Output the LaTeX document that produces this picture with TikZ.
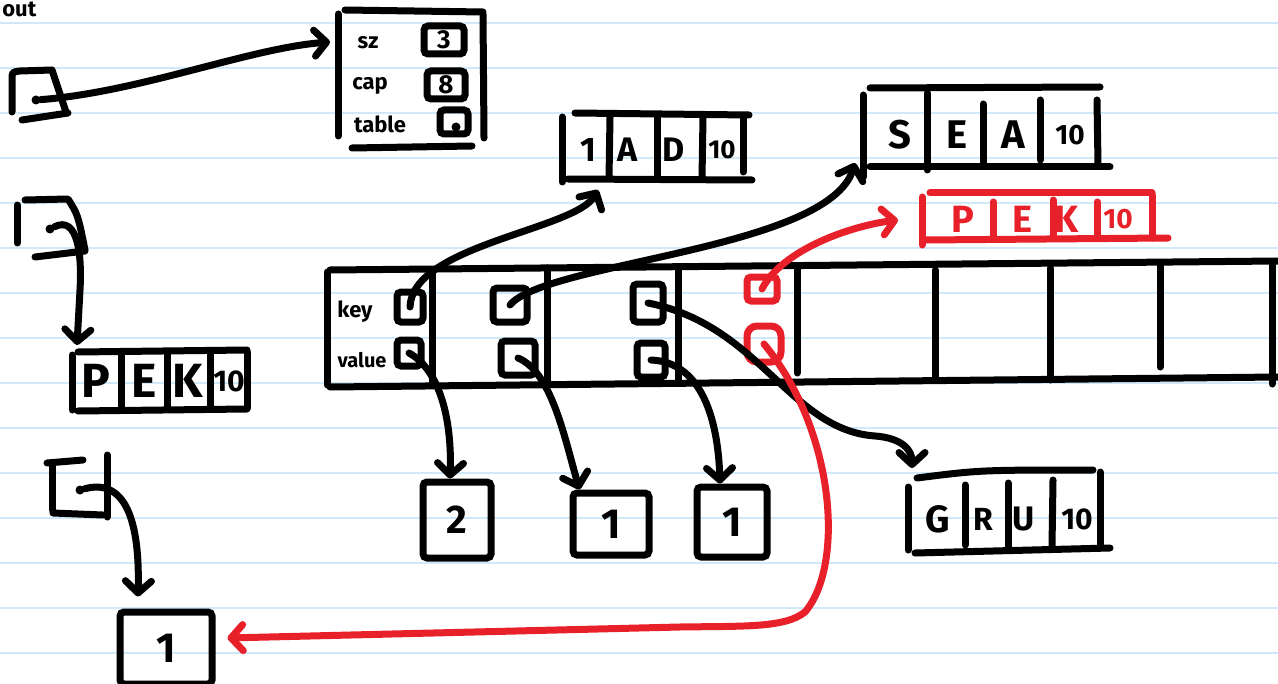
\documentclass[tikz,border=0pt]{standalone}
\usepackage{fontspec}
\setmainfont{Fira Sans}
\usetikzlibrary{arrows.meta}
\definecolor{inkred}{RGB}{232,32,42}
\definecolor{rulecol}{RGB}{208,233,248}
\tikzset{
  ink/.style={line width=3.5pt,line cap=round,line join=round},
  rink/.style={ink,draw=inkred},
  ptr/.style={ink,-{Straight Barb[length=6pt,width=13pt,round]}},
  rptr/.style={ptr,draw=inkred},
  pbox/.style={draw,line width=3.5pt,rounded corners=2pt,inner sep=0pt,font=\bfseries\fontsize{13}{13}\selectfont},
  rbox/.style={pbox,draw=inkred},
  dotn/.style={circle,fill,inner sep=0pt,minimum size=4.5pt},
  lbl/.style={inner sep=0pt,font=\bfseries\fontsize{11}{12}\selectfont},
  cellt/.style={inner sep=0pt,font=\bfseries\fontsize{#1}{#1}\selectfont},
}
\begin{document}
\begin{tikzpicture}[x=0.5pt,y=-0.5pt]
\fill[white] (0,0) rectangle (1278,684);
\useasboundingbox (0,0) rectangle (1278,684);
\foreach \yy in {23,68,...,653} \draw[rulecol,line width=0.6pt] (0,\yy) -- (1278,\yy);

% ---------- "out" and its pointer box
\node[cellt=11,anchor=north west] (outlbl) at (2,1) {out};
\draw[ink] (12,112) -- (12,80) .. controls (12,72) .. (20,71) -- (52,70) -- (66,112);
\draw[ink] (22,120) -- (68,113);
\node[dotn] (outp) at (36,100) {};

% ---------- struct (sz, cap, table)
\draw[ink] (338,14) -- (338,136);
\draw[ink] (345,10) -- (483,12);
\draw[ink] (483,14) -- (484,138);
\draw[ink] (352,148) -- (472,146);
\node[lbl] (szl) at (368,43) {sz};
\node[lbl] (capl) at (370,86) {cap};
\node[lbl] (tabl) at (380,124) {table};
\node[pbox,minimum width=20pt,minimum height=14pt] (szv) at (444,40) {3};
\node[pbox,minimum width=19pt,minimum height=14pt] (capv) at (446,85) {8};
\node[pbox,minimum width=14pt,minimum height=12pt] (tabv) at (454,122) {};
\node[dotn] (tabp) at (456,127) {};
\coordinate (structin) at (330,42);
\draw[ptr] (outp) .. controls (140,92) and (250,48) .. (structin);

% ---------- second pointer box -> PEK10
\draw[ink] (17,205) -- (17,243);
\draw[ink] (25,200) -- (68,199) .. controls (78,215) .. (85,250);
\draw[ink] (35,257) -- (85,251);
\node[dotn] (p2) at (50,229) {};
\coordinate (pekin) at (77,345);
\draw[ptr] (p2) .. controls (78,215) and (82,255) .. (80,290) -- (pekin);

% ---------- PEK10 (black)
\draw[ink] (72,355) -- (72,410);
\draw[ink] (78,352) -- (247,350);
\draw[ink] (78,411) -- (247,409);
\draw[ink] (121,355) -- (121,408);
\draw[ink] (167,353) -- (167,408);
\draw[ink] (210,353) -- (210,408);
\draw[ink] (247,352) -- (247,408);
\node[cellt=24] (bp) at (96,381) {P};
\node[cellt=24] (be) at (144,381) {E};
\node[cellt=24] (bk) at (188,381) {K};
\node[cellt=15] (b10) at (229,381) {10};

% ---------- third pointer box -> box 1
\draw[ink] (52,465) -- (52,510);
\draw[ink] (47,463) -- (83,460);
\draw[ink] (107,455) -- (107,517);
\draw[ink] (53,513) -- (103,515);
\node[dotn] (p3) at (80,490) {};
\node[pbox,minimum width=46pt,minimum height=36pt,font=\bfseries\fontsize{21}{21}\selectfont] (bbot) at (166,648) {1};
\draw[ptr] (p3) .. controls (125,478) and (140,520) .. ([xshift=-14pt,yshift=6pt]bbot.north);

% ---------- table array
\draw[ink] (327,272) -- (327,385);
\draw[ink] (330,270) -- (1278,261);
\draw[ink] (330,387) -- (1278,377);
\foreach \xx/\ya/\yb in {432/272/382,547/268/382,678/268/383,797/268/373,935/270/380,1050/268/380,1160/264/367,1272/265/384}
  \draw[ink] (\xx,\ya) -- (\xx,\yb);
\node[lbl] (keyl) at (355,312) {key};
\node[lbl,font=\bfseries\fontsize{10}{11}\selectfont] (vall) at (362,360) {value};
\node[pbox,minimum width=13pt,minimum height=15pt] (k1) at (410,307) {};
\node[pbox,minimum width=12pt,minimum height=13pt] (v1) at (409,353) {};
\node[pbox,minimum width=17pt,minimum height=17pt] (k2) at (510,305) {};
\node[pbox,minimum width=17pt,minimum height=17pt] (v2) at (518,358) {};
\node[pbox,minimum width=15pt,minimum height=19pt] (k3) at (648,303) {};
\node[pbox,minimum width=14pt,minimum height=17pt] (v3) at (651,360) {};
\node[rbox,minimum width=15pt,minimum height=12pt] (k4) at (762,289) {};
\node[rbox,minimum width=17pt,minimum height=18pt,rounded corners=5pt] (v4) at (764,344) {};

% ---------- 1AD10
\draw[ink] (562,117) -- (562,182);
\draw[ink] (575,113) -- (749,115);
\draw[ink] (568,179) -- (752,180);
\draw[ink] (610,117) -- (609,178);
\draw[ink] (657,116) -- (657,178);
\draw[ink] (703,117) -- (702,178);
\draw[ink] (743,116) -- (743,172);
\node[cellt=17] (ad1) at (588,150) {1};
\node[cellt=17] (ad2) at (628,150) {A};
\node[cellt=17] (ad3) at (674,150) {D};
\node[cellt=13] (ad4) at (722,150) {10};
\coordinate (adin) at (598,190);

% ---------- SEA10
\draw[ink] (863,95) -- (863,177);
\draw[ink] (870,88) -- (1100,87);
\draw[ink] (870,167) -- (1110,167);
\draw[ink] (927,93) -- (927,170);
\draw[ink] (983,104) -- (983,163);
\draw[ink] (1040,100) -- (1040,160);
\draw[ink] (1097,100) -- (1098,165);
\node[cellt=20] (se1) at (900,135) {S};
\node[cellt=20] (se2) at (957,135) {E};
\node[cellt=20] (se3) at (1013,135) {A};
\node[cellt=14] (se4) at (1070,135) {10};
\coordinate (seain) at (855,163);

% ---------- PEK10 (red)
\draw[rink] (922,197) -- (922,245);
\draw[rink] (930,193) -- (1152,193);
\draw[rink] (925,240) -- (1168,238);
\draw[rink] (993,202) -- (993,238);
\draw[rink] (1053,200) -- (1053,236);
\draw[rink] (1097,202) -- (1097,236);
\draw[rink] (1152,195) -- (1152,238);
\node[cellt=19,text=inkred] (rp) at (963,219) {P};
\node[cellt=19,text=inkred] (re) at (1022,219) {E};
\node[cellt=19,text=inkred] (rk) at (1067,219) {K};
\node[cellt=14,text=inkred] (r10) at (1118,219) {10};
\coordinate (rpekin) at (898,220);

% ---------- GRU10
\draw[ink] (908,487) -- (908,550);
\draw[ink] (917,478) .. controls (980,470) .. (1093,470);
\draw[ink] (915,553) -- (1110,548);
\draw[ink] (965,485) -- (965,545);
\draw[ink] (1008,483) -- (1008,548);
\draw[ink] (1053,480) -- (1052,546);
\draw[ink] (1100,472) -- (1100,546);
\node[cellt=19] (g1) at (938,519) {G};
\node[cellt=16] (g2) at (983,519) {R};
\node[cellt=17] (g3) at (1024,519) {U};
\node[cellt=15] (g4) at (1077,519) {10};
\coordinate (gruin) at (912,468);

% ---------- value boxes
\node[pbox,minimum width=34pt,minimum height=38pt,font=\bfseries\fontsize{20}{20}\selectfont] (b2) at (457,520) {2};
\node[pbox,minimum width=38pt,minimum height=31pt,font=\bfseries\fontsize{21}{21}\selectfont] (bm) at (611,524) {1};
\node[pbox,minimum width=35pt,minimum height=35pt,font=\bfseries\fontsize{21}{21}\selectfont] (br) at (732,522) {1};

% ---------- connectors from the table
\draw[ptr] (k1.center) .. controls (412,245) and (575,230) .. (adin);
\draw[ptr] (k2.center) .. controls (545,262) and (828,250) .. (seain);
\draw[ptr] (k3.center) .. controls (760,325) and (790,430) .. (875,436) .. controls (902,438) and (912,450) .. (gruin);
\draw[ptr] (v1.center) .. controls (440,370) and (452,420) .. ([xshift=-3.5pt]b2.north);
\draw[ptr] (v2.center) .. controls (552,372) and (565,440) .. ([xshift=5pt]bm.north west);
\draw[ptr] (v3.center) .. controls (702,362) and (718,420) .. ([xshift=-6pt]br.north);
\draw[rptr] (k4.center) .. controls (782,250) and (850,226) .. (rpekin);
\draw[rptr] (v4.center) .. controls (835,430) and (845,565) .. (805,612) .. controls (785,628) and (745,626) .. (680,627) -- ([xshift=6pt,yshift=5pt]bbot.east);
\end{tikzpicture}
\end{document}
